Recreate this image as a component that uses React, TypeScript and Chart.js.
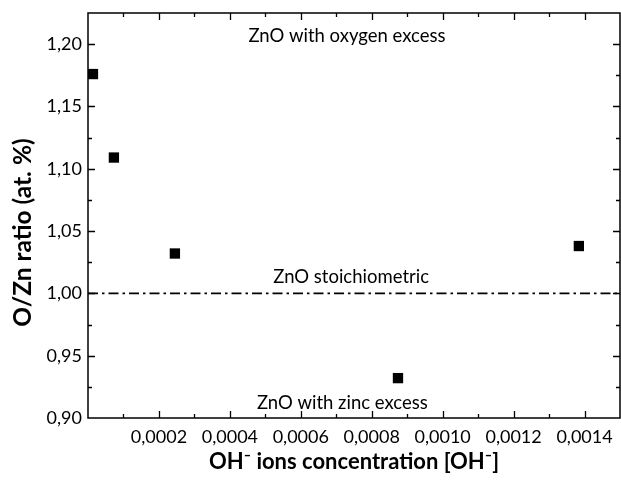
import React, { useEffect, useRef } from "react";
import { Chart, registerables } from "chart.js";

Chart.register(...registerables);

// ---- data ----
const xValues = [0.000014, 0.000073, 0.000245, 0.000874, 0.001384];
const yValues = [1.176, 1.109, 1.032, 0.932, 1.038];

const xTickValues = [0.0002, 0.0004, 0.0006, 0.0008, 0.001, 0.0012, 0.0014];
const yTickValues = [0.9, 0.95, 1.0, 1.05, 1.1, 1.15, 1.2];

const refLineX = [0, 0.0015];
const refLineY = [1.0, 1.0];

const noteTexts = ["ZnO with oxygen excess", "ZnO stoichiometric", "ZnO with zinc excess"];
const noteX = [0.00073, 0.000742, 0.000717];
const noteY = [1.2064, 1.013, 0.912];

const xTitle = "OH⁻ ions concentration [OH⁻]";
const yTitle = "O/Zn ratio (at. %)";

const X_MIN = 0;
const X_MAX = 0.0015;
const Y_MIN = 0.9;
const Y_MAX = 1.225;
const X_MINOR_STEP = 0.0001;
const Y_MINOR_STEP = 0.025;

const FONT = "Lato";

const framePlugin = {
  id: "frameTicks",
  afterDatasetsDraw(chart: any) {
    const { ctx, chartArea, scales } = chart;
    const { left, right, top, bottom } = chartArea;
    const xs = scales.x;
    const ys = scales.y;
    ctx.save();
    ctx.strokeStyle = "#000";
    ctx.lineWidth = 1.5;
    ctx.strokeRect(left, top, right - left, bottom - top);
    ctx.lineWidth = 1.3;
    const nx = Math.round((X_MAX - X_MIN) / X_MINOR_STEP);
    for (let i = 1; i < nx; i++) {
      const v = X_MIN + i * X_MINOR_STEP;
      const len = i % 2 === 0 ? 7 : 4;
      const px = Math.round(xs.getPixelForValue(v)) + 0.5;
      ctx.beginPath();
      ctx.moveTo(px, bottom);
      ctx.lineTo(px, bottom - len);
      ctx.moveTo(px, top);
      ctx.lineTo(px, top + len);
      ctx.stroke();
    }
    const ny = Math.round((Y_MAX - Y_MIN) / Y_MINOR_STEP);
    for (let i = 1; i < ny; i++) {
      const v = Y_MIN + i * Y_MINOR_STEP;
      const len = i % 2 === 0 ? 7 : 4;
      const py = Math.round(ys.getPixelForValue(v)) + 0.5;
      ctx.beginPath();
      ctx.moveTo(left, py);
      ctx.lineTo(left + len, py);
      ctx.moveTo(right, py);
      ctx.lineTo(right - len, py);
      ctx.stroke();
    }
    ctx.fillStyle = "#000";
    ctx.font = `18.5px ${FONT}`;
    ctx.textAlign = "center";
    ctx.textBaseline = "middle";
    noteTexts.forEach((t, i) => {
      ctx.fillText(t, xs.getPixelForValue(noteX[i]), ys.getPixelForValue(noteY[i]));
    });
    // y axis title, drawn a little below the axis centre as in the original
    ctx.save();
    ctx.translate(23, (top + bottom) / 2 + 17);
    ctx.rotate(-Math.PI / 2);
    ctx.font = `bold 24.5px ${FONT}`;
    ctx.fillText(yTitle, 0, 0);
    ctx.restore();
    ctx.restore();
  },
};

export default function App() {
  const ref = useRef<HTMLCanvasElement>(null);
  useEffect(() => {
    document.body.style.margin = "0";
    const points = xValues.map((x, i) => ({ x, y: yValues[i] }));
    const refLine = refLineX.map((x, i) => ({ x, y: refLineY[i] }));
    const chart = new Chart(ref.current as HTMLCanvasElement, {
      type: "scatter",
      data: {
        datasets: [
          {
            label: "ref",
            data: refLine,
            showLine: true,
            borderColor: "#000",
            borderWidth: 1.6,
            borderDash: [10, 4, 2.5, 4],
            pointRadius: 0,
            pointHoverRadius: 0,
            fill: false,
          } as any,
          {
            label: "O/Zn",
            data: points,
            pointStyle: "rect",
            pointRadius: 7.3,
            pointHoverRadius: 7.3,
            backgroundColor: "#000",
            borderColor: "#000",
            borderWidth: 0,
            showLine: false,
          } as any,
        ],
      },
      options: {
        animation: false,
        responsive: true,
        maintainAspectRatio: false,
        layout: { autoPadding: false, padding: { top: 13, right: 1, bottom: 0, left: 0 } },
        plugins: { legend: { display: false }, tooltip: { enabled: false } },
        scales: {
          x: {
            type: "linear",
            min: X_MIN,
            max: X_MAX,
            afterBuildTicks: (s: any) => {
              s.ticks = xTickValues.map((v) => ({ value: v }));
            },
            afterFit: (s: any) => {
              s.height = 64;
              s.paddingLeft = 0;
              s.paddingRight = 0;
            },
            ticks: {
              callback: (v: any) => Number(v).toFixed(4).replace(".", ","),
              font: { family: FONT, size: 18 },
              color: "#000",
              padding: 8,
              maxRotation: 0,
              autoSkip: false,
            },
            grid: { display: false, drawTicks: false },
            border: { display: false },
            title: {
              display: true,
              text: xTitle,
              font: { family: FONT, size: 22, weight: "bold" },
              color: "#000",
              padding: { top: 0, bottom: 7 },
            },
          },
          y: {
            type: "linear",
            min: Y_MIN,
            max: Y_MAX,
            afterBuildTicks: (s: any) => {
              s.ticks = yTickValues.map((v) => ({ value: v }));
            },
            afterFit: (s: any) => {
              s.width = 88;
              s.paddingTop = 0;
              s.paddingBottom = 0;
            },
            ticks: {
              callback: (v: any) => Number(v).toFixed(2).replace(".", ","),
              font: { family: FONT, size: 18 },
              color: "#000",
              padding: 6,
              autoSkip: false,
            },
            grid: { display: false, drawTicks: false },
            border: { display: false },
            title: { display: false },
          },
        },
      },
      plugins: [framePlugin],
    } as any);
    return () => chart.destroy();
  }, []);
  return (
    <div style={{ position: "relative", width: 621, height: 482 }}>
      <canvas ref={ref} />
    </div>
  );
}
